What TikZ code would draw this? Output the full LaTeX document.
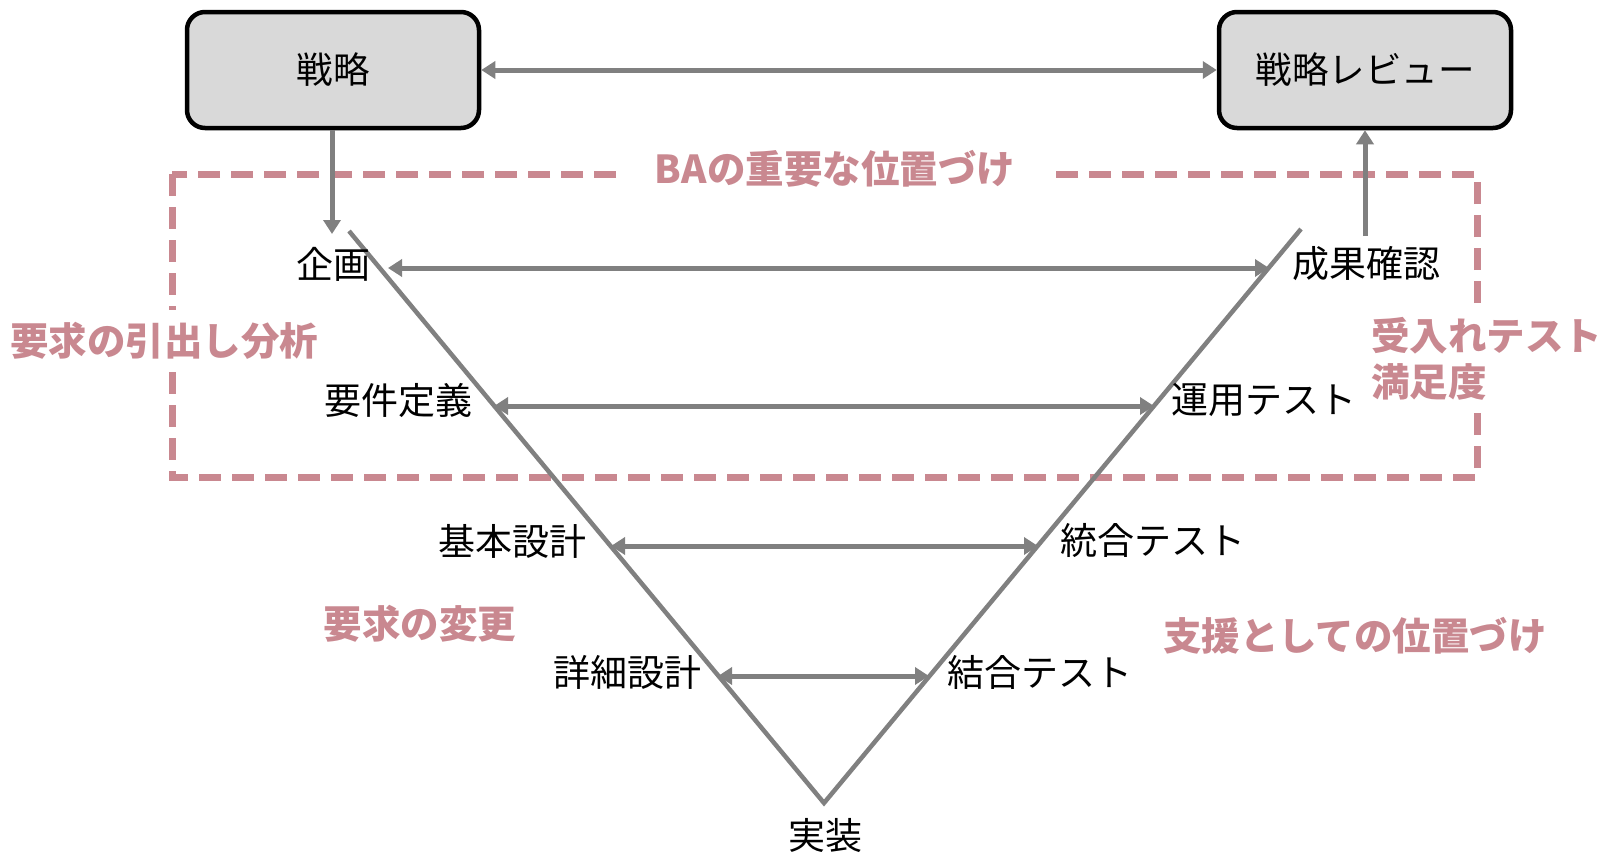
\documentclass[tikz,border=0pt]{standalone}
\usepackage{fontspec}
\setmainfont{Noto Sans CJK JP}
\usetikzlibrary{arrows.meta}
\definecolor{pinkba}{RGB}{201,136,144}
\definecolor{boxgray}{RGB}{217,217,217}
\definecolor{linegray}{RGB}{128,128,128}
\tikzset{
  topbox/.style={draw=black, line width=4.5pt, fill=boxgray, rounded corners=18pt, minimum width=292pt, minimum height=116pt, font=\fontsize{36.5}{40}\selectfont},
  lbl/.style={font=\fontsize{37}{40}\selectfont, inner sep=1pt},
  pinklbl/.style={font=\fontsize{38.5}{46}\selectfont\bfseries, text=pinkba, fill=white, inner sep=4pt, align=left},
  conn/.style={draw=linegray, line width=5pt, -{Triangle[length=14pt,width=17pt]}},
  biconn/.style={draw=linegray, line width=5pt, {Triangle[length=14pt,width=17pt]}-{Triangle[length=14pt,width=17pt]}},
  vline/.style={draw=linegray, line width=4.5pt},
  bazone/.style={draw=pinkba, line width=7pt, dash pattern=on 22pt off 11pt},
}
\begin{document}
\begin{tikzpicture}[x=1pt,y=-1pt]
\useasboundingbox (0,0) rectangle (1606,854);
% top boxes
\node[topbox] (senryaku) at (333,70) {戦略};
\node[topbox] (review) at (1365,70) {戦略レビュー};
\draw[biconn] (senryaku.east) -- (review.west);
% BA zone dashed
\draw[bazone] (172,174) rectangle (1477,477);
% V shape
\coordinate (vtl) at (349,231);
\coordinate (vb) at (824,803);
\coordinate (vtr) at (1301,229);
\draw[vline] (vtl) -- (vb) -- (vtr);
% arrow endpoints on V
\coordinate (a1l) at (388,268);
\coordinate (a1r) at (1269,268);
\coordinate (a2l) at (494,406);
\coordinate (a2r) at (1154,406);
\coordinate (a3l) at (611,546);
\coordinate (a3r) at (1038,546);
\coordinate (a4l) at (718,676);
\coordinate (a4r) at (929,676);
\draw[biconn] (a1l) -- (a1r);
\draw[biconn] (a2l) -- (a2r);
\draw[biconn] (a3l) -- (a3r);
\draw[biconn] (a4l) -- (a4r);
% vertical connectors
\coordinate (kikakutop) at (332,234);
\coordinate (seikatop) at (1365,236);
\draw[conn] (senryaku.south -| kikakutop) -- (kikakutop);
\draw[conn] (seikatop) -- (review.south -| seikatop);
% labels
\node[lbl] (kikaku) at (333,264) {企画};
\node[lbl] (seika) at (1366,264) {成果確認};
\node[lbl] (yoken) at (398,400) {要件定義};
\node[lbl] (unyo) at (1264,400) {運用テスト};
\node[lbl] (kihon) at (512,541) {基本設計};
\node[lbl] (togo) at (1153,541) {統合テスト};
\node[lbl] (shosai) at (627,672) {詳細設計};
\node[lbl] (ketsugo) at (1040,672) {結合テスト};
\node[lbl] (jisso) at (825,836) {実装};
% pink labels
\node[pinklbl, inner xsep=28pt, xshift=3pt, minimum width=425pt] (ba) at (832,169) {BAの重要な位置づけ};
\node[pinklbl, anchor=west, inner ysep=12pt] (hikidashi) at (6,341) {要求の引出し分析};
\node[pinklbl, anchor=west, inner ysep=12pt] (ukeire) at (1367,359) {受入れテスト\\満足度};
\node[pinklbl, fill=none] (henko) at (420,624) {要求の変更};
\node[pinklbl, fill=none] (shien) at (1355,636) {支援としての位置づけ};
\end{tikzpicture}
\end{document}
